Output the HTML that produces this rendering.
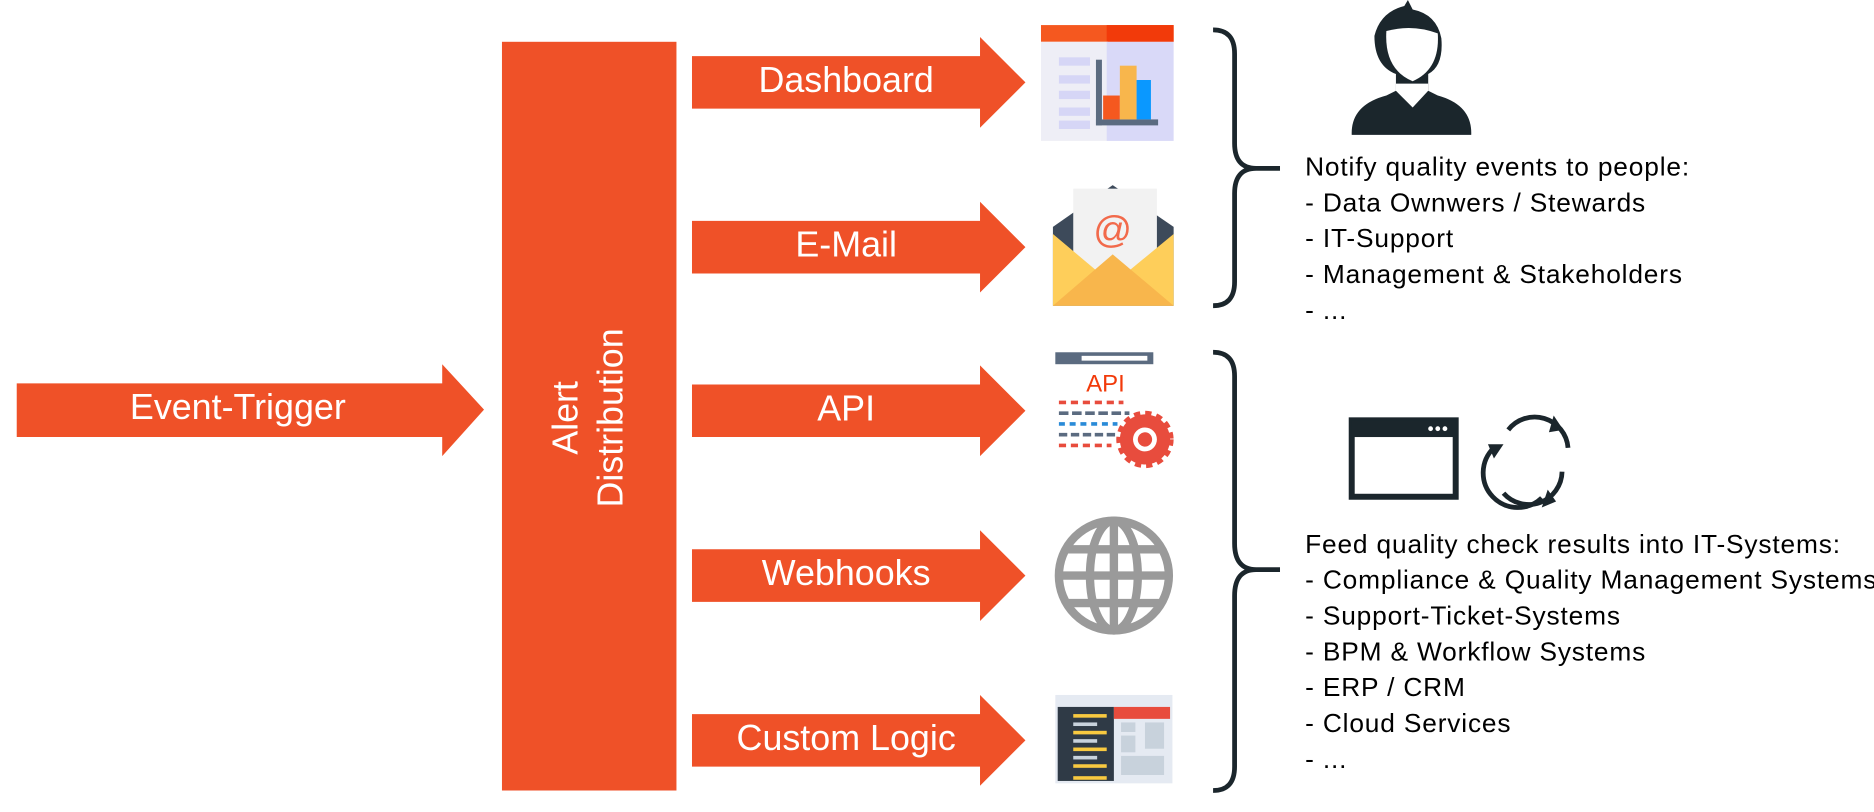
<!DOCTYPE html>
<html><head><meta charset="utf-8"><style>
html,body{margin:0;padding:0;background:#fff;overflow:hidden}
#w{position:absolute;left:0;top:0;width:1568px;height:680px;transform:scale(1.19515,1.19412);transform-origin:0 0;font-family:"Liberation Sans",sans-serif}
.t{position:absolute;color:#000;font-size:22px;letter-spacing:0.7px;line-height:30px;white-space:nowrap}
.l{position:absolute;color:#fff;font-size:30px;text-align:center}
</style></head><body><div id="w">
<svg width="1568" height="680" style="position:absolute;left:0;top:0">
<g fill="#EF5128">
<polygon points="14,321 370,321 370,305 405,343 370,382 370,366 14,366"/>
<rect x="420" y="35" width="146" height="627"/>
<polygon points="579,47 820,47 820,31 858,69 820,107 820,91 579,91"/>
<polygon points="579,185 820,185 820,169 858,207 820,245 820,229 579,229"/>
<polygon points="579,322 820,322 820,306 858,344 820,382 820,366 579,366"/>
<polygon points="579,460 820,460 820,444 858,482 820,520 820,504 579,504"/>
<polygon points="579,598 820,598 820,582 858,620 820,658 820,642 579,642"/>
</g>
<rect x="871" y="21" width="111" height="14" fill="#F5581F"/><rect x="926" y="21" width="56" height="14" fill="#F23A0A"/>
<rect x="871" y="35" width="56" height="83" fill="#EEEEF6"/><rect x="926" y="35" width="56" height="83" fill="#D9D9F8"/>
<g fill="#D6D6F6"><rect x="886" y="48" width="26" height="7"/><rect x="886" y="63" width="26" height="7"/><rect x="886" y="76" width="26" height="7"/><rect x="886" y="90" width="26" height="7"/><rect x="886" y="101" width="26" height="7"/></g>
<rect x="917" y="50" width="5" height="55" fill="#5B6B80"/><rect x="917" y="100" width="52" height="5" fill="#5B6B80"/>
<rect x="923" y="80" width="14" height="20" fill="#F5581F"/><rect x="937" y="55" width="14" height="45" fill="#F8B64C"/><rect x="951" y="67" width="12" height="33" fill="#0A98FF"/>
<polygon points="881,190 931,155 982,190 982,256 881,256" fill="#3D4A5A"/>
<rect x="898" y="158" width="70" height="80" fill="#F2F2F2"/>
<text x="931" y="203" font-size="32" fill="#F26A4B" text-anchor="middle" font-family="Liberation Sans">@</text>
<polygon points="881,196 931,238 982,196 982,256 881,256" fill="#FECE5A"/>
<polygon points="881,256 931,213 982,256" fill="#F8B64C"/>
<rect x="883" y="295" width="82" height="10" fill="#5B6B80"/><rect x="905" y="298" width="55" height="4" fill="#fff"/>
<text x="925" y="328" font-size="20" fill="#F23A0A" text-anchor="middle">API</text>
<g stroke-width="3"><line x1="886" y1="337" x2="940" y2="337" stroke="#E84C3D" stroke-dasharray="6 4"/><line x1="886" y1="346" x2="945" y2="346" stroke="#5B6B80" stroke-dasharray="8 3"/><line x1="886" y1="355" x2="935" y2="355" stroke="#2A8BD8" stroke-dasharray="5 4"/><line x1="886" y1="364" x2="935" y2="364" stroke="#5B6B80" stroke-dasharray="7 3"/><line x1="886" y1="373" x2="930" y2="373" stroke="#E84C3D" stroke-dasharray="6 4"/></g>
<circle cx="958" cy="368" r="21" fill="#E84C3D" stroke="#E84C3D" stroke-width="6" stroke-dasharray="5 4"/><circle cx="958" cy="368" r="10" fill="#fff"/><circle cx="958" cy="368" r="6" fill="#E84C3D"/>
<g fill="none" stroke="#9A9A9A" stroke-width="7"><circle cx="932" cy="482" r="46"/><ellipse cx="932" cy="482" rx="20" ry="46"/><line x1="932" y1="436" x2="932" y2="528"/><line x1="886" y1="482" x2="978" y2="482"/><line x1="892" y1="460" x2="972" y2="460"/><line x1="892" y1="505" x2="972" y2="505"/></g>
<rect x="883" y="582" width="98" height="74" fill="#E5EAF2"/><rect x="885" y="592" width="47" height="62" fill="#2F3A46"/><rect x="932" y="592" width="47" height="10" fill="#E84C3D"/>
<g fill="#F8C940"><rect x="898" y="598" width="28" height="3"/><rect x="898" y="612" width="28" height="3"/><rect x="898" y="626" width="28" height="3"/><rect x="898" y="640" width="28" height="3"/><rect x="898" y="650" width="28" height="3"/></g>
<g fill="#C8D2DC"><rect x="898" y="605" width="20" height="3"/><rect x="898" y="619" width="20" height="3"/><rect x="898" y="633" width="20" height="3"/><rect x="938" y="605" width="12" height="8"/><rect x="958" y="605" width="16" height="22"/><rect x="938" y="616" width="12" height="14"/><rect x="938" y="633" width="36" height="16"/></g>
<g fill="none" stroke="#1B262C" stroke-width="4">
<path d="M1015,25 Q1033,25 1033,45 L1033,120 Q1033,141 1051,141 L1071,141 M1051,141 Q1033,141 1033,162 L1033,236 Q1033,256 1015,256"/>
<path d="M1015,295 Q1033,295 1033,315 L1033,455 Q1033,477 1051,477 L1071,477 M1051,477 Q1033,477 1033,499 L1033,642 Q1033,662 1015,662"/>
</g>
<path d="M1131,113 Q1130,88 1160,80 L1168,76 L1168,62 Q1150,55 1150,30 Q1155,10 1175,5 L1178,0 L1182,8 Q1202,12 1206,32 Q1208,55 1195,62 L1195,76 L1203,80 Q1232,88 1231,113 Z" fill="#1B262C"/>
<path d="M1160,26 Q1182,20 1203,28 Q1205,58 1182,68 Q1158,58 1160,26Z" fill="#fff"/>
<path d="M1168,76 L1182,90 L1195,76 L1195,70 L1168,70Z" fill="#fff"/>
<rect x="1131" y="352" width="87" height="64" fill="none" stroke="#1B262C" stroke-width="5"/><rect x="1131" y="352" width="87" height="14" fill="#1B262C"/>
<g fill="#fff"><circle cx="1197" cy="359" r="2"/><circle cx="1203" cy="359" r="2"/><circle cx="1209" cy="359" r="2"/></g>
<g fill="none" stroke="#1B262C" stroke-width="4"><path d="M1262,360 A28,28 0 0 1 1312,375"/><path d="M1307,395 A28,28 0 0 1 1258,413"/><path d="M1290,417 A28,28 0 0 1 1250,375"/></g>
<g fill="#1B262C"><polygon points="1245,372 1258,372 1250,384"/><polygon points="1300,348 1308,360 1296,362"/><polygon points="1290,425 1295,410 1302,420"/></g>
</svg>
<div class="l" style="left:14px;width:370px;top:325px">Event-Trigger</div>
<div class="l" style="left:579px;width:258px;top:51px">Dashboard</div>
<div class="l" style="left:579px;width:258px;top:189px">E-Mail</div>
<div class="l" style="left:579px;width:258px;top:326px">API</div>
<div class="l" style="left:579px;width:258px;top:464px">Webhooks</div>
<div class="l" style="left:579px;width:258px;top:602px">Custom Logic</div>
<div class="l" style="left:343px;width:300px;top:312px;line-height:38px;transform:rotate(-90deg)">Alert<br>Distribution</div>
<div class="t" style="left:1092px;top:125px">Notify quality events to people:<br>- Data Ownwers / Stewards<br>- IT-Support<br>- Management &amp; Stakeholders<br>- ...</div>
<div class="t" style="left:1092px;top:441px">Feed quality check results into IT-Systems:<br>- Compliance &amp; Quality Management Systems<br>- Support-Ticket-Systems<br>- BPM &amp; Workflow Systems<br>- ERP / CRM<br>- Cloud Services<br>- ...</div>
</div></body></html>
